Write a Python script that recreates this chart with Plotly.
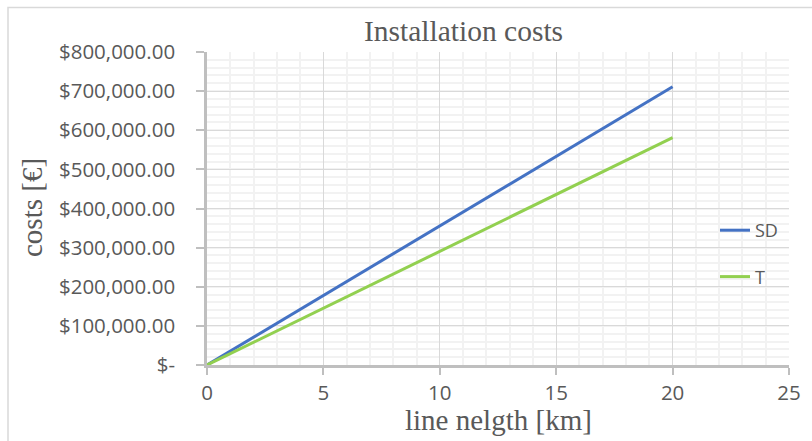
import plotly.graph_objects as go

line_length_km = [0, 20]
cost_sd = [0, 711000]
cost_t = [0, 581000]
series_names = ["SD", "T"]
series_colors = ["#4472C4", "#92D050"]
y_tick_vals = [0, 100000, 200000, 300000, 400000, 500000, 600000, 700000, 800000]
y_tick_text = ["$-"] + [f"${v:,.2f}" for v in y_tick_vals[1:]]

W, H = 812, 441
L, R, T, B = 207, 23, 52, 76
pw, ph = W - L - R, H - T - B

def px_to_paper_x(px):
    return (px - L) / pw

def px_to_paper_y(py):
    return (H - B - py) / ph

fig = go.Figure()
for name, ys, col, grp in zip(series_names, [cost_sd, cost_t], series_colors, ["a", "b"]):
    fig.add_trace(go.Scatter(x=line_length_km, y=ys, mode="lines", name=name,
                             legendgroup=grp,
                             line=dict(color=col, width=3)))

tick_font = dict(family="Open Sans, Liberation Sans, sans-serif", size=20.5, color="#595959")
serif = "Liberation Serif, Times New Roman, serif"

fig.update_layout(
    width=W, height=H,
    margin=dict(l=L, r=R, t=T, b=B, pad=0),
    paper_bgcolor="white", plot_bgcolor="white",
    showlegend=True,
    legend=dict(x=px_to_paper_x(715), y=px_to_paper_y(212), xanchor="left", yanchor="top",
                bgcolor="rgba(0,0,0,0)", font=dict(family="Open Sans, sans-serif", size=18, color="#595959"),
                traceorder="grouped", tracegroupgap=20),
    annotations=[
        dict(text="Installation costs", x=px_to_paper_x(463), y=px_to_paper_y(31), xref="paper", yref="paper",
             showarrow=False, font=dict(family=serif, size=29.5, color="#595959"), xanchor="center", yanchor="middle"),
        dict(text="costs [€]", x=px_to_paper_x(32), y=px_to_paper_y(208), xref="paper", yref="paper",
             showarrow=False, textangle=-90, font=dict(family=serif, size=29, color="#595959"),
             xanchor="center", yanchor="middle"),
        dict(text="line nelgth [km]", x=px_to_paper_x(498), y=px_to_paper_y(420), xref="paper", yref="paper",
             showarrow=False, font=dict(family=serif, size=29, color="#595959"), xanchor="center", yanchor="middle"),
    ],
    shapes=[
        dict(type="rect", xref="paper", yref="paper",
             x0=px_to_paper_x(8), x1=px_to_paper_x(830), y0=px_to_paper_y(460), y1=px_to_paper_y(7.5),
             line=dict(color="#D9D9D9", width=1.5), fillcolor="rgba(0,0,0,0)", layer="below"),
    ],
)

fig.update_xaxes(range=[0, 25], dtick=5, tick0=0, showgrid=True, gridcolor="#D9D9D9", gridwidth=1.2,
                 minor=dict(dtick=1, showgrid=True, gridcolor="#F2F2F2", gridwidth=2),
                 showline=True, linecolor="#BFBFBF", linewidth=2.5,
                 ticks="outside", ticklen=7, tickcolor="#BFBFBF", tickwidth=1.5,
                 tickfont=tick_font, ticklabelstandoff=1, zeroline=False, fixedrange=True)
fig.update_yaxes(range=[0, 800000], tickvals=y_tick_vals, ticktext=y_tick_text,
                 showgrid=True, gridcolor="#D9D9D9", gridwidth=1.2,
                 minor=dict(dtick=20000, showgrid=True, gridcolor="#F2F2F2", gridwidth=2),
                 showline=True, linecolor="#BFBFBF", linewidth=2.5,
                 ticks="outside", ticklen=8, tickcolor="#BFBFBF", tickwidth=1.5,
                 tickfont=tick_font, ticklabelstandoff=17, zeroline=False, fixedrange=True)

fig.write_html("out.html", config={"displayModeBar": False},
               post_script="document.body.style.margin='0';")
